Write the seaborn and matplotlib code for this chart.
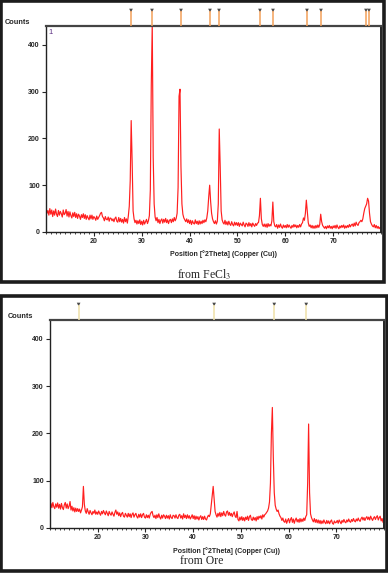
import numpy as np
import pandas as pd
import matplotlib
matplotlib.use("Agg")
import matplotlib.pyplot as plt
import seaborn as sns
from matplotlib.patches import Rectangle
from matplotlib.ticker import MultipleLocator

# XRD scans, 2theta from 10 to 80 deg, step 0.2 (counts)
scan_start = 10.0
scan_step = 0.2

# sample made from FeCl3
fecl3_counts = [
    52, 40, 46, 36, 50, 38, 47, 33, 45, 36,
    49, 38, 33, 46, 36, 44, 39, 32, 47, 37,
    40, 48, 34, 44, 32, 43, 35, 30, 41, 33,
    42, 31, 39, 29, 38, 34, 27, 37, 31, 39,
    29, 37, 27, 35, 30, 26, 36, 28, 36, 27,
    33, 30, 25, 34, 27, 31, 35, 40, 42, 33,
    30, 24, 33, 27, 26, 32, 23, 30, 29, 24,
    28, 22, 29, 32, 23, 21, 31, 22, 29, 21,
    27, 19, 31, 22, 28, 19, 34, 55, 110, 238,
    150, 45, 28, 20, 25, 17, 24, 18, 26, 16,
    23, 15, 25, 17, 22, 27, 18, 24, 35, 90,
    315, 445, 160, 60, 32, 24, 31, 20, 27, 18,
    25, 28, 19, 27, 21, 29, 20, 26, 18, 25,
    27, 20, 28, 22, 31, 24, 29, 40, 95, 290,
    305, 140, 60, 38, 30, 26, 22, 28, 20, 26,
    18, 25, 16, 24, 19, 17, 26, 18, 23, 16,
    24, 17, 23, 18, 25, 20, 26, 22, 30, 45,
    75, 100, 65, 40, 28, 22, 18, 24, 17, 23,
    60, 220, 140, 45, 26, 20, 17, 25, 16, 22,
    15, 23, 17, 14, 22, 16, 13, 21, 15, 20,
    14, 20, 12, 19, 16, 13, 21, 15, 11, 19,
    17, 12, 20, 13, 18, 11, 19, 15, 12, 18,
    14, 19, 20, 35, 72, 28, 16, 12, 17, 11,
    17, 10, 18, 12, 16, 13, 24, 64, 22, 13,
    11, 16, 8, 15, 10, 17, 11, 8, 15, 10,
    14, 9, 16, 10, 15, 11, 8, 14, 10, 16,
    11, 15, 9, 14, 10, 16, 11, 17, 20, 30,
    25, 40, 68, 45, 20, 12, 15, 9, 14, 8,
    13, 8, 14, 9, 15, 10, 16, 38, 22, 14,
    11, 8, 12, 7, 13, 9, 14, 8, 12, 7,
    13, 9, 14, 8, 15, 10, 7, 13, 9, 14,
    10, 15, 8, 13, 9, 14, 10, 16, 11, 15,
    17, 12, 19, 13, 21, 16, 14, 20, 22, 25,
    22, 28, 40, 50, 55, 60, 72, 66, 40, 22,
    17, 13, 11, 16, 9, 14, 8, 12, 7, 10,
    9,
]

# sample made from ore
ore_counts = [
    35, 52, 43, 54, 45, 41, 51, 44, 53, 42,
    50, 40, 52, 43, 39, 49, 54, 42, 51, 41,
    46, 56, 38, 46, 36, 43, 34, 42, 35, 41,
    35, 40, 32, 38, 45, 88, 50, 36, 31, 41,
    34, 29, 37, 32, 28, 35, 31, 38, 29, 34,
    29, 36, 31, 27, 35, 30, 37, 32, 28, 36,
    31, 26, 35, 30, 27, 34, 29, 25, 33, 38,
    29, 34, 26, 32, 24, 30, 33, 25, 23, 31,
    27, 23, 31, 24, 30, 22, 29, 32, 23, 28,
    31, 24, 21, 29, 23, 30, 22, 28, 31, 23,
    21, 28, 22, 27, 21, 29, 33, 35, 26, 22,
    27, 20, 28, 22, 30, 23, 19, 27, 21, 28,
    25, 20, 27, 21, 26, 19, 28, 22, 20, 27,
    26, 21, 28, 22, 20, 27, 29, 21, 26, 19,
    30, 22, 27, 20, 28, 21, 26, 19, 23, 28,
    20, 26, 18, 25, 19, 24, 17, 23, 26, 18,
    24, 18, 25, 19, 17, 23, 27, 24, 30, 50,
    70, 88, 60, 35, 28, 23, 31, 25, 33, 24,
    32, 26, 35, 28, 25, 34, 36, 27, 33, 26,
    31, 24, 30, 34, 25, 22, 35, 18, 15, 23,
    17, 24, 16, 22, 15, 23, 18, 25, 16, 24,
    27, 18, 16, 23, 17, 22, 15, 24, 18, 25,
    21, 26, 19, 28, 23, 28, 30, 33, 36, 42,
    55, 95, 200, 255, 150, 75, 48, 40, 35, 38,
    30, 25, 22, 16, 21, 14, 12, 19, 10, 16,
    20, 11, 18, 22, 12, 19, 10, 17, 21, 13,
    18, 12, 20, 13, 19, 14, 21, 16, 24, 28,
    95, 220, 75, 30, 22, 17, 13, 20, 12, 18,
    11, 17, 10, 16, 9, 15, 10, 17, 12, 9,
    16, 10, 15, 9, 14, 17, 10, 8, 15, 11,
    12, 16, 10, 17, 13, 9, 16, 12, 18, 13,
    11, 17, 13, 19, 14, 12, 18, 14, 20, 15,
    13, 19, 15, 21, 16, 14, 20, 23, 17, 22,
    16, 21, 24, 18, 23, 17, 25, 20, 16, 21,
    24, 18, 23, 26, 17, 22, 25, 15, 20, 12,
    10,
]

# reference pattern stick positions shown above each plot
fecl3_sticks = [27.76, 32.15, 38.21, 44.27, 46.15, 54.71, 57.43, 64.53, 67.46, 76.86, 77.49]
ore_sticks = [16.0, 44.4, 57.0, 63.7]

xticks = [20, 30, 40, 50, 60, 70]
yticks = [0, 100, 200, 300, 400]

sns.set_style("white")
plt.rcParams['font.family'] = ['Liberation Sans', 'DejaVu Sans']
plt.rcParams['mathtext.fontset'] = 'stix'

W, H = 388, 573
fig = plt.figure(figsize=(W / 100, H / 100), dpi=100)


def fx(px):
    return px / W


def fy(py):
    return 1 - py / H


def panel(counts, sticks, stick_color, box, axbox, stick_top, counts_pos, xlabel_pos,
          caption, caption_pos, show_one):
    # thick frame round each panel
    bx0, by0, bx1, by1 = box
    fig.add_artist(Rectangle((fx(bx0), fy(by1)), fx(bx1 - bx0), (by1 - by0) / H,
                             transform=fig.transFigure, fill=False,
                             edgecolor='#1c1c1c', lw=2.6))
    l, t, r, b = axbox
    ax = fig.add_axes([fx(l), fy(b), fx(r - l), (b - t) / H])
    df = pd.DataFrame({'two_theta': scan_start + scan_step * np.arange(len(counts)),
                       'counts': counts})
    sns.lineplot(data=df, x='two_theta', y='counts', ax=ax, color='#ff1f1f', lw=0.85)
    ax.set_xlim(10, 80)
    ax.set_ylim(0, 440)
    ax.set_xticks(xticks)
    ax.set_yticks(yticks)
    ax.xaxis.set_minor_locator(MultipleLocator(1))
    ax.tick_params(axis='both', which='major', labelsize=5, length=3, width=0.8,
                   direction='out', pad=1.5, bottom=True, left=True)
    ax.tick_params(axis='x', which='minor', length=1.5, width=0.6, bottom=True)
    for lab in ax.get_xticklabels() + ax.get_yticklabels():
        lab.set_fontweight('bold')
    ax.set_xlabel('')
    ax.set_ylabel('')
    for side, sp in ax.spines.items():
        sp.set_color('#222222')
        sp.set_linewidth(1.0)
    ax.spines['top'].set_linewidth(1.6)
    ax.spines['top'].set_color('#444444')
    ax.spines['right'].set_linewidth(1.4)
    if show_one:
        ax.text(0.008, 0.985, '1', transform=ax.transAxes, color='#5a2d82',
                fontsize=5.5, va='top', ha='left')

    # stick pattern above the axes
    sax = fig.add_axes([fx(l), fy(t), fx(r - l), (t - stick_top) / H])
    sax.set_xlim(10, 80)
    sax.set_ylim(0, 1)
    sax.axis('off')
    sax.vlines(sticks, 0, 0.82, color=stick_color, lw=1.1)
    sns.scatterplot(x=sticks, y=[0.86] * len(sticks), ax=sax, marker='v', s=7,
                    color='#4a4a4a', edgecolor='none')

    fig.text(fx(counts_pos[0]), fy(counts_pos[1]), 'Counts', fontsize=5.3,
             fontweight='bold', va='center', ha='left')
    fig.text(fx(xlabel_pos[0]), fy(xlabel_pos[1]), 'Position [\u00b02Theta] (Copper (Cu))',
             fontsize=5, fontweight='bold', va='center', ha='center')
    fig.text(fx(caption_pos[0]), fy(caption_pos[1]), caption, fontsize=8.5,
             family='Liberation Serif', va='center', ha='center')
    return ax


panel(fecl3_counts, fecl3_sticks, '#f3a05a', (1, 1, 384, 282), (46, 26, 381, 232), 8,
      (5, 22), (224, 254), 'from FeCl$_3$', (204, 275), True)
panel(ore_counts, ore_sticks, '#efe0a8', (1, 296, 387, 571), (50, 320, 384, 528), 302,
      (8, 317), (226, 551), 'from Ore', (202, 561), False)

fig.savefig('out.png', dpi=100)
